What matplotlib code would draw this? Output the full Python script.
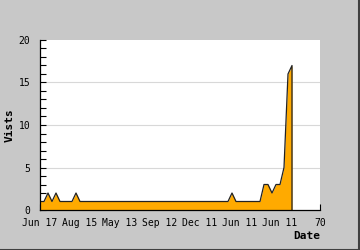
import numpy as np
import matplotlib.pyplot as plt
from matplotlib.lines import Line2D

# visits per period, index 0..63
visits = [1, 1, 2, 1, 2, 1, 1, 1, 1, 2,
          1, 1, 1, 1, 1, 1, 1, 1, 1, 1,
          1, 1, 1, 1, 1, 1, 1, 1, 1, 1,
          1, 1, 1, 1, 1, 1, 1, 1, 1, 1,
          1, 1, 1, 1, 1, 1, 1, 1, 2, 1,
          1, 1, 1, 1, 1, 1, 3, 3, 2, 3,
          3, 5, 16, 17]
xtick_pos = [0, 10, 20, 30, 40, 50, 60, 70]
xtick_labels = ['Jun 17', 'Aug 15', 'May 13', 'Sep 12', 'Dec 11', 'Jun 11', 'Jun 11', '70']
ytick_pos = [0, 5, 10, 15, 20]

mono = 'DejaVu Sans Mono'
plt.rcParams['font.family'] = mono

fig = plt.figure(figsize=(3.6, 2.5), dpi=100, facecolor='#c8c8c8')
ax = fig.add_axes([40/360, 40/250, 280/360, 170/250])
ax.set_facecolor('white')

xs = np.arange(len(visits))
ax.fill_between(xs, visits, 0, color='#ffaa00', linewidth=0, zorder=2)
ax.plot(np.append(xs, xs[-1]), np.append(visits, 0), color='#222222', lw=0.9, zorder=3)

ax.set_xlim(0, 70)
ax.set_ylim(0, 20)

for y in ytick_pos[1:-1]:
    ax.axhline(y, color='#d8d8d8', lw=0.8, zorder=1)

ax.set_xticks(xtick_pos)
ax.set_xticklabels(xtick_labels, fontsize=7)
ax.set_yticks(ytick_pos)
ax.set_yticklabels([str(v) for v in ytick_pos], fontsize=7)
ax.set_yticks(np.arange(0, 21, 1), minor=True)
ax.tick_params(axis='both', which='both', direction='in', length=4, width=0.8, color='black')
ax.tick_params(axis='y', which='major', pad=7)
ax.tick_params(axis='x', which='major', pad=6)
ax.tick_params(axis='x', which='minor', length=0)

for s in ['top', 'right']:
    ax.spines[s].set_visible(False)
for s in ['left', 'bottom']:
    ax.spines[s].set_color('black')
    ax.spines[s].set_linewidth(0.9)
    ax.spines[s].set_zorder(4)

fig.text(10/360, 1 - 125/250, 'Vists', rotation=90, fontsize=8, fontweight='bold',
         ha='center', va='center')
fig.text(320/360, 1 - 236/250, 'Date', fontsize=8, fontweight='bold',
         ha='right', va='center')

# darker frame edge on right and bottom
fig.add_artist(Line2D([0, 1], [0.002, 0.002], color='#404040', lw=1.5, transform=fig.transFigure))
fig.add_artist(Line2D([0.998, 0.998], [0, 1], color='#404040', lw=1.5, transform=fig.transFigure))

fig.savefig('out.png', dpi=100, facecolor=fig.get_facecolor())
